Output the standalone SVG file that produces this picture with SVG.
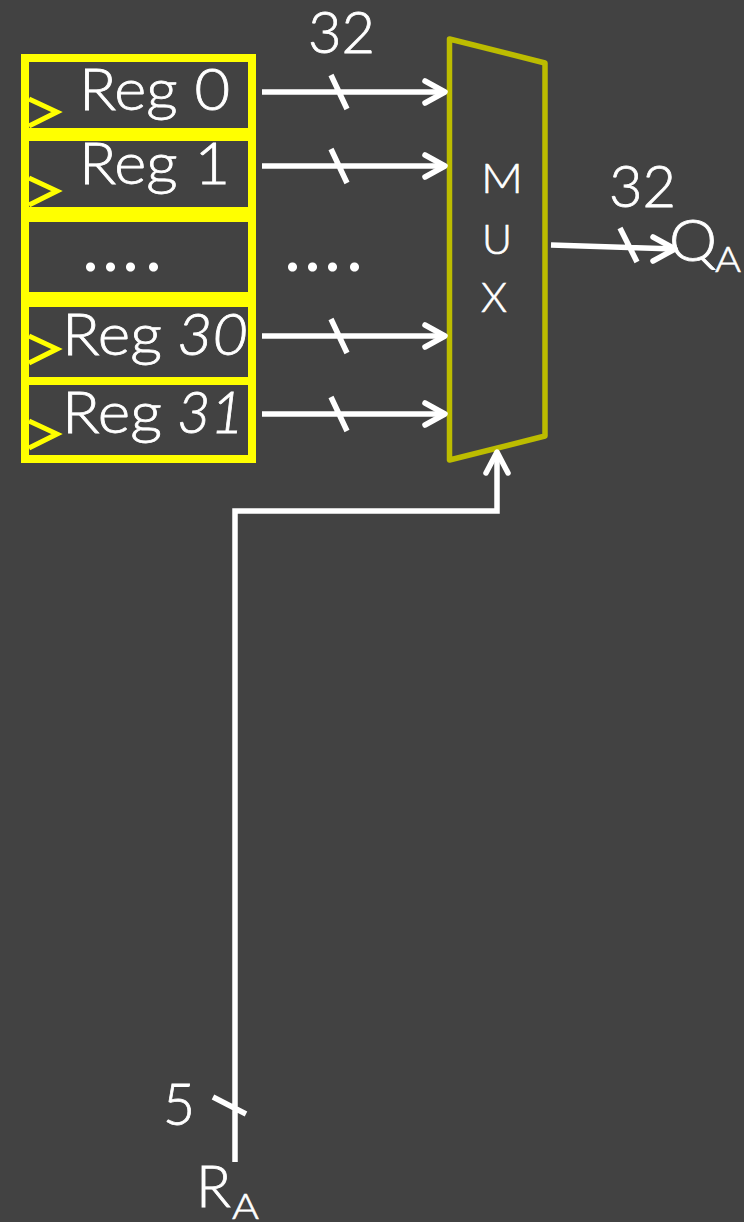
<svg xmlns="http://www.w3.org/2000/svg" width="744" height="1222" viewBox="0 0 744 1222">
<defs>
<style>
text{font-family:"Lato","Open Sans","Liberation Sans",sans-serif;fill:#fff;font-weight:300;stroke:#fff;stroke-width:.8px}
.reg{fill:none;stroke:#ff0;stroke-width:8}
.clk{fill:none;stroke:#ff0;stroke-width:5;stroke-linejoin:miter}
.w{fill:none;stroke:#fff;stroke-width:5.500}
.head{fill:none;stroke:#fff;stroke-width:5.500;stroke-linecap:round;stroke-linejoin:round}
.t{font-size:58px}
.m{font-size:41px;stroke-width:.6px}
.s{font-size:36px;stroke-width:.6px}
.d{font-size:72px;font-weight:400;stroke:none}
</style>
</defs>
<rect width="744" height="1222" fill="#424242"/>
<g id="reg0"><rect class="reg" x="25" y="58" width="227" height="74"/><polyline class="clk" points="29,99 57,112 29,126"/><text class="t" x="79" y="110" textLength="151" lengthAdjust="spacingAndGlyphs">Reg 0</text></g>
<g id="reg1"><rect class="reg" x="25" y="137" width="227" height="74"/><polyline class="clk" points="29,178 57,191 29,205"/><text class="t" x="79" y="184" textLength="151" lengthAdjust="spacingAndGlyphs">Reg 1</text></g>
<g id="regdots"><rect class="reg" x="25" y="218" width="227" height="78"/><text class="d" x="82 102 122 145" y="271">....</text></g>
<g id="reg30"><rect class="reg" x="25" y="303" width="227" height="78"/><polyline class="clk" points="29,336 57,349 29,363"/><text class="t" x="62" y="355" textLength="100" lengthAdjust="spacingAndGlyphs">Reg</text><text class="t" x="177" y="355" font-style="italic" textLength="71" lengthAdjust="spacingAndGlyphs">30</text></g>
<g id="reg31"><rect class="reg" x="25" y="381" width="227" height="78"/><polyline class="clk" points="29,421 57,434 29,448"/><text class="t" x="62" y="433" textLength="100" lengthAdjust="spacingAndGlyphs">Reg</text><text class="t" x="177" y="433" font-style="italic" textLength="67" lengthAdjust="spacingAndGlyphs">31</text></g>
<g id="mux"><polygon points="449.500,39 545,63 545,436 449.500,460" fill="none" stroke="#bcbc00" stroke-width="5.500" stroke-linejoin="round"/><text class="m" x="481" y="193" textLength="42" lengthAdjust="spacingAndGlyphs">M</text><text class="m" x="482" y="254" textLength="30" lengthAdjust="spacingAndGlyphs">U</text><text class="m" x="481" y="312" textLength="26" lengthAdjust="spacingAndGlyphs">X</text></g>
<g id="connectors">
<path class="w" d="M262 92H445M331 75L347 109"/><polyline class="head" points="425,81 445,92 425,103"/>
<path class="w" d="M262 166H445M331 149L347 183"/><polyline class="head" points="425,155 445,166 425,177"/>
<path class="w" d="M262 336H445M331 319L347 353"/><polyline class="head" points="425,325 445,336 425,347"/>
<path class="w" d="M262 414H445M331 397L347 431"/><polyline class="head" points="425,403 445,414 425,425"/>
<path class="w" d="M551 245L675 249M620 228L637 262"/><polyline class="head" points="653,237 675,249 653,261"/>
<path class="w" d="M235 1162V511H497V452M213 1097L246 1114"/><polyline class="head" points="486,473 497,452 508,473"/>
</g>
<g id="labels">
<text class="t" x="308" y="53" textLength="67" lengthAdjust="spacingAndGlyphs">32</text>
<text class="t" x="609" y="207" textLength="67" lengthAdjust="spacingAndGlyphs">32</text>
<text class="d" x="284 304 324 346" y="271">....</text>
<text class="t" x="669" y="261" textLength="48" lengthAdjust="spacingAndGlyphs">Q</text>
<text class="s" x="715" y="272" textLength="26" lengthAdjust="spacingAndGlyphs">A</text>
<text class="t" x="163" y="1125" textLength="32" lengthAdjust="spacingAndGlyphs">5</text>
<text class="t" x="196" y="1207" textLength="35" lengthAdjust="spacingAndGlyphs">R</text>
<text class="s" x="232" y="1219" textLength="27" lengthAdjust="spacingAndGlyphs">A</text>
</g>
</svg>
